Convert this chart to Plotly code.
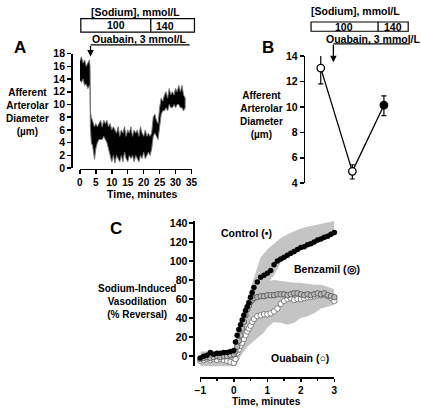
import plotly.graph_objects as go

W, H = 421, 412
def px(x): return x / W
def py(y): return 1 - y / H

FONT = "Liberation Sans, Arial, sans-serif"

# ---------------- Panel A: afferent arteriolar diameter trace (envelope of noisy trace)
a_time = [0.0, 0.5, 1.0, 1.5, 2.0, 2.5, 3.0, 3.2, 3.3, 3.6, 4.0, 4.3, 4.6, 5.0, 5.5, 6.0, 6.5, 7.0,
          7.5, 8.0, 8.5, 9.0, 9.5, 10.0, 10.5, 11.0, 11.5, 12.0, 12.5, 13.0, 13.5, 14.0, 14.5,
          15.0, 15.5, 16.0, 16.5, 17.0, 17.5, 18.0, 18.5, 19.0, 19.5, 20.0, 20.5, 21.0, 21.5,
          22.0, 22.5, 23.0, 23.5, 24.0, 24.5, 25.0, 25.5, 26.0, 26.5, 27.0, 27.5, 28.0, 28.5,
          29.0, 29.5, 30.0, 30.5, 31.0, 31.5, 32.0, 32.5, 33.0]
a_low = [13.8, 13.5, 14.0, 13.0, 13.2, 12.5, 13.0, 12.5, 6.5, 4.0, 3.5, 3.0, 1.4, 3.0, 4.0, 4.5,
         4.5, 4.5, 5.0, 4.5, 4.0, 3.0, 2.0, 1.0, 2.0, 0.8, 2.0, 1.5, 1.0, 2.0, 1.0, 2.5, 1.5,
         1.0, 2.0, 1.5, 2.0, 1.0, 2.0, 1.5, 1.0, 2.0, 1.5, 2.5, 1.5, 2.0, 2.5, 2.0, 3.0, 5.0,
         5.5, 5.0, 4.5, 6.5, 8.5, 9.0, 9.0, 9.5, 9.0, 10.0, 9.5, 9.5, 10.0, 9.5, 10.0, 10.0,
         9.5, 9.5, 9.0, 9.5]
a_high = [16.8, 17.5, 16.5, 17.0, 16.0, 16.5, 17.0, 16.0, 9.0, 8.0, 7.5, 7.0, 6.5, 7.0, 6.5, 7.0,
          7.5, 6.5, 7.5, 7.0, 7.5, 6.5, 7.0, 6.0, 6.5, 6.0, 5.5, 6.5, 5.0, 6.0, 5.5, 6.5, 5.0,
          6.0, 5.5, 6.5, 5.0, 6.0, 5.5, 6.0, 5.0, 6.5, 5.5, 5.0, 6.0, 5.0, 5.5, 5.0, 5.5, 8.0,
          8.5, 7.5, 7.0, 9.5, 11.0, 10.5, 11.5, 12.0, 11.0, 12.5, 11.5, 12.0, 11.5, 12.5, 12.0,
          13.0, 12.0, 13.0, 11.5, 11.0]
a_xticks = [0, 5, 10, 15, 20, 25, 30, 35]
a_yticks = [0, 2, 4, 6, 8, 10, 12, 14, 16, 18]

# ---------------- Panel B: mean diameter (+/- SEM)
b_pos = [1, 2, 3]
b_mean = [13.05, 4.93, 10.13]
b_err_plus = [1.26, 0.52, 0.73]
b_err_minus = [1.24, 0.60, 0.82]
b_fill = ["white", "white", "black"]
b_yticks = [4, 6, 8, 10, 12, 14]

# ---------------- Panel C: sodium-induced vasodilation (% reversal)
c_time = [-1.0, -0.9, -0.8, -0.7, -0.6, -0.5, -0.4, -0.3, -0.2, -0.1, 0.0, 0.05, 0.1, 0.15,
          0.2, 0.25, 0.3, 0.35, 0.4, 0.45, 0.5, 0.55, 0.6, 0.7, 0.8, 0.9, 1.0, 1.1, 1.2, 1.3,
          1.4, 1.5, 1.6, 1.7, 1.8, 1.9, 2.0, 2.1, 2.2, 2.3, 2.4, 2.5, 2.6, 2.7, 2.8, 2.9, 3.0]
control = [-2, 0, 1, 4, 2, 3, 3, 4, 4, 5, 6, 15, 22, 28, 33, 38, 43, 48, 52, 56, 62, 67, 72,
           78, 83, 85, 87, 90, 96, 100, 102, 104, 106, 108, 110, 112, 114, 115, 117, 118, 120,
           122, 123, 125, 126, 128, 130]
benzamil = [-3, -2, -1, -2, -1, 0, -1, 0, 0, 1, 2, 5, 10, 16, 22, 29, 36, 43, 49, 53, 57, 59,
            61, 62, 63, 63, 64, 64, 64, 65, 65, 65, 64, 65, 66, 66, 65, 64, 65, 64, 65, 66, 65,
            66, 64, 63, 62]
ouabain = [-5, -4, -3, -4, -3, -4, -3, -4, -5, -6, -7, -3, 3, 7, 11, 14, 18, 22, 26, 29, 32,
           36, 39, 42, 43, 44, 44, 45, 47, 50, 55, 58, 60, 61, 59, 60, 60, 61, 62, 62, 63, 64,
           64, 65, 63, 61, 58]

band_time = [-1.0, -0.5, -0.2, 0.0, 0.1, 0.2, 0.3, 0.4, 0.5, 0.6, 0.7, 0.8, 0.9, 1.0, 1.2, 1.4,
             1.6, 1.8, 2.0, 2.2, 2.4, 2.6, 2.8, 3.0]
band_upper = [5, 5, 5, 4, 12, 25, 38, 50, 62, 70, 75, 79, 80, 79, 80, 79, 78, 77, 77, 76, 75,
              75, 73, 70]
band_lower = [-13, -12, -12, -15, -8, 0, 5, 10, 14, 17, 19, 22, 25, 30, 36, 35, 33, 35, 40, 42,
              45, 50, 52, 54]

ctrl_band_time = [0.0, 0.2, 0.4, 0.5, 0.6, 0.8, 1.0, 1.2, 1.4, 1.6, 1.8, 2.0, 2.2, 2.5, 2.8, 3.0]
ctrl_band_upper = [10, 40, 60, 70, 82, 104, 112, 118, 124, 128, 131, 134, 136, 138, 140, 142]
ctrl_band_lower = [0, 25, 42, 52, 60, 70, 76, 85, 98, 103, 108, 111, 114, 119, 123, 127]

c_xticks = [-1, 0, 1, 2, 3]
c_yticks = [0, 20, 40, 60, 80, 100, 120, 140]

fig = go.Figure()

# Panel A trace band
fig.add_trace(go.Scatter(
    x=a_time + a_time[::-1], y=a_high + a_low[::-1], fill="toself",
    fillcolor="black", line=dict(color="#777777", width=1), mode="lines",
    xaxis="x", yaxis="y", hoverinfo="skip"))

# Panel B
fig.add_trace(go.Scatter(
    x=b_pos, y=b_mean, mode="lines+markers",
    line=dict(color="black", width=1.3),
    marker=dict(size=7.5, color=b_fill, line=dict(color="black", width=1.3)),
    error_y=dict(type="data", symmetric=False, array=b_err_plus, arrayminus=b_err_minus,
                 color="black", thickness=1.2, width=2.5),
    xaxis="x2", yaxis="y2", cliponaxis=False))

# Panel C bands
fig.add_trace(go.Scatter(
    x=band_time + band_time[::-1], y=band_upper + band_lower[::-1], fill="toself",
    fillcolor="#c4c4c4", line=dict(width=0), mode="lines", xaxis="x3", yaxis="y3"))
fig.add_trace(go.Scatter(
    x=ctrl_band_time + ctrl_band_time[::-1], y=ctrl_band_upper + ctrl_band_lower[::-1],
    fill="toself", fillcolor="#c4c4c4", line=dict(width=0), mode="lines",
    xaxis="x3", yaxis="y3"))
fig.add_trace(go.Scatter(
    x=c_time, y=ouabain, mode="markers",
    marker=dict(size=5.5, color="white", line=dict(color="#777777", width=0.9)),
    xaxis="x3", yaxis="y3", cliponaxis=False))
fig.add_trace(go.Scatter(
    x=c_time, y=benzamil, mode="markers",
    marker=dict(size=5.5, color="#b8b8b8", line=dict(color="#5a5a5a", width=0.9)),
    xaxis="x3", yaxis="y3", cliponaxis=False))
fig.add_trace(go.Scatter(
    x=c_time, y=control, mode="markers",
    marker=dict(size=5.5, color="black", line=dict(width=0)),
    xaxis="x3", yaxis="y3", cliponaxis=False))

tickfont = dict(family=FONT, size=10.5, color="black", weight="bold")
ax_common = dict(showline=True, linecolor="black", linewidth=1.5, ticks="outside",
                 ticklen=4, tickwidth=1.5, tickcolor="black", showgrid=False,
                 zeroline=False, tickfont=tickfont, fixedrange=True)
xax_common = {**ax_common, "ticklen": 3.5,
              "tickfont": dict(family=FONT, size=10, color="black", weight="bold")}

fig.update_layout(
    width=W, height=H, margin=dict(l=0, r=0, t=0, b=0),
    paper_bgcolor="white", plot_bgcolor="rgba(0,0,0,0)", showlegend=False,
    xaxis=dict(domain=[px(76), px(191)], range=[0, 35], anchor="free", position=py(167.5),
               tickvals=a_xticks, **xax_common),
    yaxis=dict(domain=[py(167), py(49)], range=[0, 18], anchor="free", position=px(67),
               tickvals=a_yticks, **ax_common),
    xaxis2=dict(domain=[px(306), px(410)], range=[0.446, 3.646], anchor="y2", visible=False),
    yaxis2=dict(domain=[py(182.5), py(51.5)], range=[4, 14], anchor="free", position=px(306.5),
                tickvals=b_yticks, **ax_common),
    xaxis3=dict(domain=[px(200), px(338)], range=[-1, 3], anchor="free", position=py(382.5),
                tickvals=c_xticks,
                minor=dict(tickvals=[-0.5, 0.5, 1.5, 2.5], ticklen=2.5, tickwidth=1.5,
                           tickcolor="black", ticks="outside"),
                **xax_common),
    yaxis3=dict(domain=[py(371.0), py(221.4)], range=[-10.5, 142], anchor="free",
                position=px(193), tickvals=c_yticks, **ax_common),
)

ann = []
def text(x, y, s, size=10.5, xa="center"):
    ann.append(dict(x=px(x), y=py(y), xref="paper", yref="paper", text=s, showarrow=False,
                    xanchor=xa, yanchor="middle",
                    font=dict(family=FONT, size=size, color="black", weight="bold")))

# Panel A annotations
text(14, 43, "A", 17)
text(133, 6, "[Sodium], mmol/L", 10.5)
text(113, 20, "100", 10.5)
text(164, 20.5, "140", 10.5)
text(137, 33.5, "Ouabain, 3 mmol/L", 10.5)
text(22, 109, "Afferent<br>Arterolar<br>Diameter<br>(µm)", 10)
text(140, 194, "Time, minutes", 10.5)

# Panel B annotations
text(270, 43, "B", 17)
text(360, 5, "[Sodium], mmol/L", 10.5)
text(348, 21.5, "100", 10.5)
text(398, 21.5, "140", 10.5)
text(378, 33.5, "Ouabain, 3 mmol/L", 10.5)
text(263, 112, "Afferent<br>Arterolar<br>Diameter<br>(µm)", 10)

# Panel C annotations
text(113, 229, "C", 17)
text(135, 304, "Sodium-Induced<br>Vasodilation<br>(% Reversal)", 10)
text(248, 234, "Control (•)", 10.5)
text(330, 271, "Benzamil (◎)", 10.5)
text(303, 363, "Ouabain (○)", 10.5)
text(268, 407.3, "Time, minutes", 10.2)

# arrows (tip position, tail offset in pixels)
ann.append(dict(x=px(87), y=py(52), ax=0, ay=-12, xref="paper", yref="paper",
                showarrow=True, arrowhead=2, arrowsize=1,
                arrowwidth=1.3, arrowcolor="black", text=""))
ann.append(dict(x=px(337), y=py(58), ax=0, ay=-19, xref="paper", yref="paper",
                showarrow=True, arrowhead=2, arrowsize=1,
                arrowwidth=1.3, arrowcolor="black", text=""))
fig.update_layout(annotations=ann)

shapes = []
def rect(x0, y0, x1, y1):
    shapes.append(dict(type="rect", xref="paper", yref="paper", x0=px(x0), x1=px(x1),
                       y0=py(y1), y1=py(y0), line=dict(color="black", width=1.2)))
def line(x0, y0, x1, y1):
    shapes.append(dict(type="line", xref="paper", yref="paper", x0=px(x0), x1=px(x1),
                       y0=py(y0), y1=py(y1), line=dict(color="black", width=1.3)))

rect(77, 13, 194, 27)
line(149, 13, 149, 27)
line(87, 40, 189, 40)
rect(314, 16.5, 414, 26)
line(383, 16.5, 383, 26)
line(337, 39, 416, 39)
fig.update_layout(shapes=shapes)

css_js = ("var d=document.documentElement,b=document.body;"
          "d.style.margin='0';d.style.padding='0';d.style.overflow='hidden';"
          "b.style.margin='0';b.style.padding='0';b.style.overflow='hidden';"
          "b.style.width='421px';b.style.height='412px';")
fig.write_html("out.html", config={"displayModeBar": False, "staticPlot": True},
               post_script=css_js)
